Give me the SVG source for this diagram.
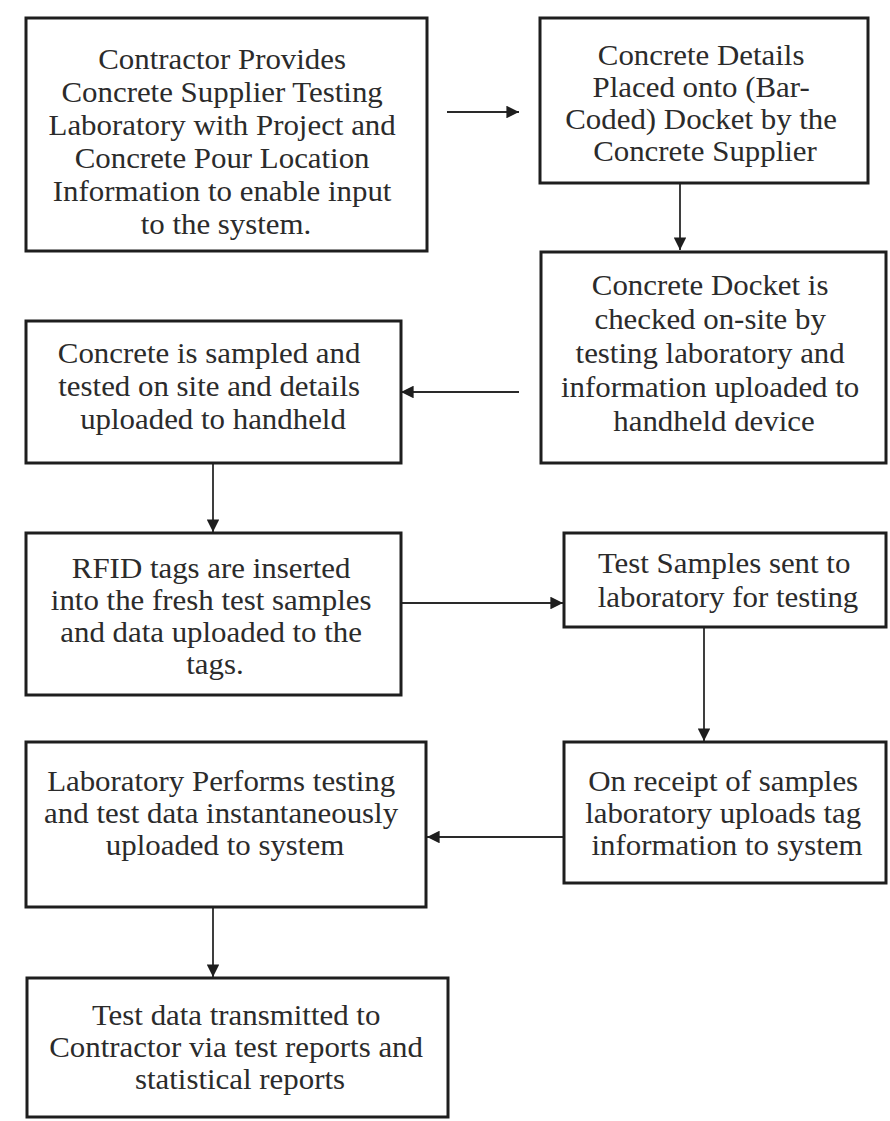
<svg xmlns="http://www.w3.org/2000/svg" width="890" height="1121" viewBox="0 0 890 1121">
  <style>
    .box { fill: #ffffff; stroke: #1e1e1e; stroke-width: 3; }
    .label { font-family: 'Liberation Serif', 'Times New Roman', serif; font-size: 29px; fill: #2b2b2b; text-anchor: middle; }
    .link { stroke: #2a2a2a; stroke-width: 1.8; fill: none; marker-end: url(#arrow); }
  </style>
  <defs>
    <marker id="arrow" viewBox="0 0 10 10" refX="10" refY="5" markerWidth="7" markerHeight="7" markerUnits="strokeWidth" orient="auto">
      <path d="M0,0 L10,5 L0,10 Z" fill="#1e1e1e"/>
    </marker>
  </defs>
  <rect width="890" height="1121" fill="#ffffff"/>

  <!-- connectors -->
  <g id="connectors">
    <line class="link" x1="447" y1="112" x2="519" y2="112" stroke-width="2.4"/>
    <line class="link" x1="680" y1="183" x2="680" y2="250"/>
    <line class="link" x1="519" y1="392" x2="401" y2="392"/>
    <line class="link" x1="213" y1="463" x2="213" y2="532"/>
    <line class="link" x1="401" y1="603" x2="563" y2="603"/>
    <line class="link" x1="704" y1="627" x2="704" y2="741"/>
    <line class="link" x1="563" y1="837" x2="427" y2="837"/>
    <line class="link" x1="213" y1="907" x2="213" y2="977"/>
  </g>

  <!-- labels are widened slightly about their centre line -->
  <g id="contractor-provides">
    <rect class="box" x="26" y="18" width="401" height="233"/>
    <text class="label" transform="matrix(1.065 0 0 1 -14.69 0)">
      <tspan x="226" y="69">Contractor Provides</tspan>
      <tspan x="226" y="102">Concrete Supplier Testing</tspan>
      <tspan x="226" y="135">Laboratory with Project and</tspan>
      <tspan x="226" y="168">Concrete Pour Location</tspan>
      <tspan x="226" y="201">Information to enable input</tspan>
      <tspan x="226" y="234">to the system.</tspan>
    </text>
  </g>

  <g id="concrete-details">
    <rect class="box" x="540" y="18" width="328" height="165"/>
    <text class="label" transform="matrix(1.065 0 0 1 -45.83 0)">
      <tspan x="705" y="65">Concrete Details</tspan>
      <tspan x="705" y="97">Placed onto (Bar-</tspan>
      <tspan x="705" y="129">Coded) Docket by the</tspan>
      <tspan x="705" y="161">Concrete Supplier</tspan>
    </text>
  </g>

  <g id="docket-checked">
    <rect class="box" x="541" y="252" width="345" height="211"/>
    <text class="label" transform="matrix(1.065 0 0 1 -46.41 0)">
      <tspan x="714" y="295">Concrete Docket is</tspan>
      <tspan x="714" y="329">checked on-site by</tspan>
      <tspan x="714" y="363">testing laboratory and</tspan>
      <tspan x="714" y="397">information uploaded to</tspan>
      <tspan x="714" y="431">handheld device</tspan>
    </text>
  </g>

  <g id="sampled-tested">
    <rect class="box" x="26" y="321" width="375" height="142"/>
    <text class="label" transform="matrix(1.065 0 0 1 -13.85 0)">
      <tspan x="213" y="363">Concrete is sampled and</tspan>
      <tspan x="213" y="396">tested on site and details</tspan>
      <tspan x="213" y="429">uploaded to handheld</tspan>
    </text>
  </g>

  <g id="rfid-tags">
    <rect class="box" x="26" y="533" width="375" height="162"/>
    <text class="label" transform="matrix(1.065 0 0 1 -13.98 0)">
      <tspan x="215" y="578">RFID tags are inserted</tspan>
      <tspan x="215" y="610">into the fresh test samples</tspan>
      <tspan x="215" y="642">and data uploaded to the</tspan>
      <tspan x="215" y="674">tags.</tspan>
    </text>
  </g>

  <g id="samples-sent">
    <rect class="box" x="564" y="533" width="322" height="94"/>
    <text class="label" transform="matrix(1.065 0 0 1 -47.32 0)">
      <tspan x="728" y="573">Test Samples sent to</tspan>
      <tspan x="728" y="607">laboratory for testing</tspan>
    </text>
  </g>

  <g id="receipt-upload">
    <rect class="box" x="564" y="742" width="322" height="141"/>
    <text class="label" transform="matrix(1.065 0 0 1 -47.26 0)">
      <tspan x="727" y="791">On receipt of samples</tspan>
      <tspan x="727" y="823">laboratory uploads tag</tspan>
      <tspan x="727" y="855">information to system</tspan>
    </text>
  </g>

  <g id="lab-testing">
    <rect class="box" x="26" y="742" width="400" height="165"/>
    <text class="label" transform="matrix(1.065 0 0 1 -14.63 0)">
      <tspan x="225" y="791">Laboratory Performs testing</tspan>
      <tspan x="225" y="823">and test data instantaneously</tspan>
      <tspan x="225" y="855">uploaded to system</tspan>
    </text>
  </g>

  <g id="reports">
    <rect class="box" x="27" y="978" width="421" height="139"/>
    <text class="label" transform="matrix(1.065 0 0 1 -15.6 0)">
      <tspan x="240" y="1025">Test data transmitted to</tspan>
      <tspan x="240" y="1057">Contractor via test reports and</tspan>
      <tspan x="240" y="1089">statistical reports</tspan>
    </text>
  </g>
</svg>
